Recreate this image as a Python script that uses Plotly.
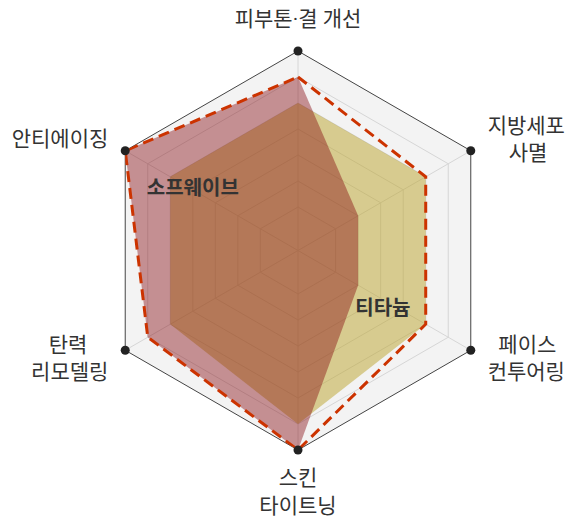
import plotly.graph_objects as go

# ---- data -------------------------------------------------------------
categories = ["피부톤·결 개선", "지방세포 사멸", "페이스 컨투어링",
              "스킨 타이트닝", "탄력 리모델링", "안티에이징"]
tick_labels = ["피부톤·결 개선", "지방세포<br>\u3000사멸", "\u2002페이스<br>컨투어링",
               "스킨<br>타이트닝", "탄력\u3000<br>리모델링", "안티에이징"]
sofwave = [9, 5, 5, 10, 9, 10]
titanium = [8, 8, 8, 9, 8, 8]
combined = [9, 8, 8, 10, 9, 10]
axis_max = 10
grid_levels = [4, 5, 6, 7, 8, 9, 10]
series_names = ["소프웨이브", "티타늄"]
series_label_r = [7.0, 6.1]
series_label_theta = ["안티에이징", "페이스 컨투어링"]

# ---- layout / styles ----------------------------------------------------
FONT = "Roboto, Noto Sans CJK KR"
W, H = 572, 517            # page body has an 8px margin inside the 580x525 window
CX, CY = 290.0, 242.5      # chart centre (px from left / top of the figure)
R = 199.5                  # radius of the outer ring in px
R_LABEL_FRAME = 240.0      # radius of the invisible frame that carries the labels
r_min = 2.33
label_r = 219.0            # label distance from centre, in frame px
label_positions = ["top center", "middle right", "middle right",
                   "bottom center", "middle left", "middle left"]


def square_domain(radius):
    return dict(x=[(CX - radius) / W, (CX + radius) / W],
                y=[(H - CY - radius) / H, (H - CY + radius) / H])


fig = go.Figure()

fig.add_trace(go.Scatterpolar(
    r=titanium, theta=categories, fill="toself", mode="lines",
    fillcolor="rgba(187,163,43,0.5)", line=dict(width=0, color="rgba(0,0,0,0)"),
    hoverinfo="skip", showlegend=False, name="티타늄"))

fig.add_trace(go.Scatterpolar(
    r=sofwave, theta=categories, fill="toself", mode="lines",
    fillcolor="rgba(131,5,12,0.42)", line=dict(width=0, color="rgba(0,0,0,0)"),
    hoverinfo="skip", showlegend=False, name="소프웨이브"))

fig.add_trace(go.Scatterpolar(
    r=combined + combined[:1], theta=categories + categories[:1], mode="lines",
    line=dict(color="#cc3300", width=3, dash="11px,6px"),
    hoverinfo="skip", showlegend=False, cliponaxis=False))

fig.add_trace(go.Scatterpolar(
    r=[axis_max] * len(categories), theta=categories, mode="markers",
    marker=dict(size=9, color="#222222"),
    hoverinfo="skip", showlegend=False, cliponaxis=False))

fig.add_trace(go.Scatterpolar(
    r=series_label_r, theta=series_label_theta, mode="text",
    text=[f"<b>{s}</b>" for s in series_names],
    textposition=["middle center", "bottom center"],
    textfont=dict(family=FONT, size=20, color="#333333"),
    hoverinfo="skip", showlegend=False, cliponaxis=False))

# category labels, on a second (invisible) polar frame sharing the same centre
fig.add_trace(go.Scatterpolar(
    subplot="polar2",
    r=[label_r] * len(categories), theta=categories, mode="text",
    text=tick_labels, textposition=label_positions,
    textfont=dict(family=FONT, size=21, color="#333333"),
    hoverinfo="skip", showlegend=False, cliponaxis=False))

fig.update_layout(
    width=W, height=H,
    margin=dict(l=0, r=0, t=0, b=0, pad=0),
    paper_bgcolor="white",
    font=dict(family=FONT, color="#333333"),
    polar=dict(
        bgcolor="#f3f3f3",
        gridshape="linear",
        domain=square_domain(R),
        radialaxis=dict(
            range=[r_min, axis_max], tickvals=grid_levels, showticklabels=False,
            ticks="", showline=False, gridcolor="#d6d6d6", gridwidth=1,
            layer="below traces"),
        angularaxis=dict(
            type="category", categoryarray=categories, tickvals=categories,
            showticklabels=False, direction="clockwise", rotation=90,
            ticks="",
            showline=True, linecolor="#444444", linewidth=1,
            gridcolor="#d6d6d6", gridwidth=1, layer="below traces"),
    ),
    polar2=dict(
        bgcolor="rgba(0,0,0,0)",
        domain=square_domain(R_LABEL_FRAME),
        radialaxis=dict(range=[0, R_LABEL_FRAME], visible=False),
        angularaxis=dict(
            type="category", categoryarray=categories, direction="clockwise",
            rotation=90, visible=False),
    ),
)

fig.write_html("out.html")
